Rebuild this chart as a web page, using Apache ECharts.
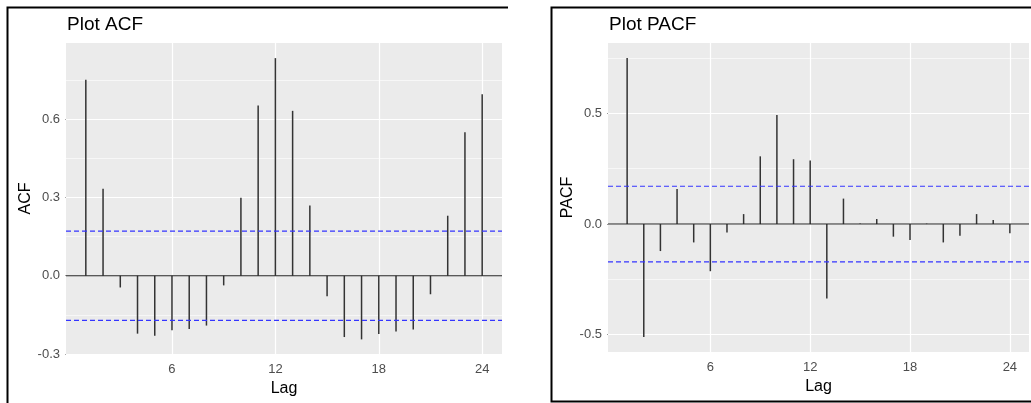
<!DOCTYPE html>
<html>
<head>
<meta charset="utf-8">
<script src="https://cdn.jsdelivr.net/npm/echarts@6/dist/echarts.min.js"></script>
<style>
  html, body { margin: 0; padding: 0; background: #fff; }
  #chart { width: 1031px; height: 403px; }
</style>
</head>
<body>
<div id="chart"></div>
<script>
// lags 1..24
const lags = [1, 2, 3, 4, 5, 6, 7, 8, 9, 10, 11, 12, 13, 14, 15, 16, 17, 18, 19, 20, 21, 22, 23, 24];
const acfValues = [0.751, 0.333, -0.045, -0.222, -0.230, -0.209, -0.204, -0.191, -0.037, 0.299, 0.652, 0.834,
                   0.632, 0.269, -0.079, -0.235, -0.244, -0.223, -0.214, -0.206, -0.071, 0.230, 0.550, 0.696];
const pacfValues = [0.750, -0.510, -0.122, 0.158, -0.083, -0.213, -0.038, 0.045, 0.306, 0.493, 0.293, 0.287,
                    -0.336, 0.115, 0.003, 0.023, -0.057, -0.072, 0.002, -0.083, -0.053, 0.045, 0.018, -0.042];
const ciLimit = 0.171;

const lagTicks = [6, 12, 18, 24];
const acfTicks = [-0.3, 0, 0.3, 0.6];
const acfMinor = [-0.15, 0.15, 0.45, 0.75];
const pacfTicks = [-0.5, 0, 0.5];
const pacfMinor = [-0.25, 0.25, 0.75];

const X_MIN = -0.15, X_MAX = 25.15;
const FONT = 'Liberation Sans, Arial, sans-serif';

function pairs(vals) {
    return lags.map((l, i) => [l, vals[i]]);
}

function xAxisFor(gridIndex) {
    return {
        type: 'value', gridIndex: gridIndex, min: X_MIN, max: X_MAX,
        name: 'Lag', nameLocation: 'middle', nameGap: 27,
        nameTextStyle: { fontFamily: FONT, fontSize: 16, color: '#000' },
        axisLine: { show: false },
        axisTick: { show: true, length: 3, customValues: lagTicks, lineStyle: { color: '#333', width: 1 } },
        axisLabel: { customValues: lagTicks, margin: 9, fontFamily: FONT, fontSize: 13, color: '#4d4d4d' },
        splitLine: { show: false }
    };
}

function yAxisFor(gridIndex, min, max, ticks, name, gap) {
    return {
        type: 'value', gridIndex: gridIndex, min: min, max: max,
        name: name, nameLocation: 'middle', nameGap: gap,
        nameTextStyle: { fontFamily: FONT, fontSize: 16, color: '#000' },
        axisLine: { show: false },
        axisTick: { show: true, length: 3, customValues: ticks, lineStyle: { color: '#333', width: 1 } },
        axisLabel: { customValues: ticks, margin: 6, fontFamily: FONT, fontSize: 13, color: '#4d4d4d',
                     formatter: v => v.toFixed(1) },
        splitLine: { show: false }
    };
}

// white grid lines, carried by an empty series underneath the stems
function gridLines(idx, width, data) {
    return {
        type: 'line', xAxisIndex: idx, yAxisIndex: idx, data: [], silent: true, z: 1,
        markLine: { silent: true, symbol: 'none', z: 1, label: { show: false }, animation: false,
                    lineStyle: { color: '#fff', width: width, type: 'solid' }, data: data }
    };
}

// horizontal line across the whole panel
function hLine(idx, y, color, type, z) {
    return {
        type: 'line', xAxisIndex: idx, yAxisIndex: idx, silent: true, z: z,
        data: [[X_MIN, y], [X_MAX, y]], symbol: 'none',
        lineStyle: { color: color, width: 1.1, type: type }
    };
}

function panelSeries(idx, vals, majorY, minorY) {
    return [
        gridLines(idx, 0.6, minorY.map(v => ({ yAxis: v }))),
        gridLines(idx, 1.2, majorY.map(v => ({ yAxis: v })).concat(lagTicks.map(v => ({ xAxis: v })))),
        {
            type: 'bar', xAxisIndex: idx, yAxisIndex: idx, data: pairs(vals),
            barWidth: 1.5, z: 3, silent: true,
            itemStyle: { color: '#333' }
        },
        hLine(idx, 0, '#222', 'solid', 4),
        hLine(idx, ciLimit, '#3535ff', [5, 3], 5),
        hLine(idx, -ciLimit, '#3535ff', [5, 3], 5)
    ];
}

const chart = echarts.init(document.getElementById('chart'), null, { renderer: 'canvas' });

const option = {
    animation: false,
    backgroundColor: '#fff',
    title: [
        { text: 'Plot ACF', left: 67, top: 15, padding: 0, textStyle: { fontFamily: FONT, fontSize: 19, fontWeight: 'normal', color: '#000' } },
        { text: 'Plot PACF', left: 609, top: 15, padding: 0, textStyle: { fontFamily: FONT, fontSize: 19, fontWeight: 'normal', color: '#000' } }
    ],
    grid: [
        { left: 66, top: 43, width: 436, height: 311, show: true, backgroundColor: '#ebebeb', borderWidth: 0,
          containLabel: false, outerBoundsMode: 'none' },
        { left: 608, top: 43, width: 421, height: 309, show: true, backgroundColor: '#ebebeb', borderWidth: 0,
          containLabel: false, outerBoundsMode: 'none' }
    ],
    xAxis: [xAxisFor(0), xAxisFor(1)],
    yAxis: [
        yAxisFor(0, -0.3, 0.892, acfTicks, 'ACF', 31),
        yAxisFor(1, -0.578, 0.818, pacfTicks, 'PACF', 31)
    ],
    graphic: [
        // panel frames
        { type: 'polyline', z: 10, shape: { points: [[7.5, 403], [7.5, 7.5], [508, 7.5]] }, style: { stroke: '#000', lineWidth: 2, fill: null } },
        { type: 'polyline', z: 10, shape: { points: [[1031, 7.5], [551.5, 7.5], [551.5, 401.5], [1031, 401.5]] }, style: { stroke: '#000', lineWidth: 2, fill: null } }
    ],
    series: panelSeries(0, acfValues, acfTicks, acfMinor)
        .concat(panelSeries(1, pacfValues, pacfTicks, pacfMinor))
};

chart.setOption(option);
window.addEventListener('resize', () => {
    chart.resize();
});
</script>
</body>
</html>
